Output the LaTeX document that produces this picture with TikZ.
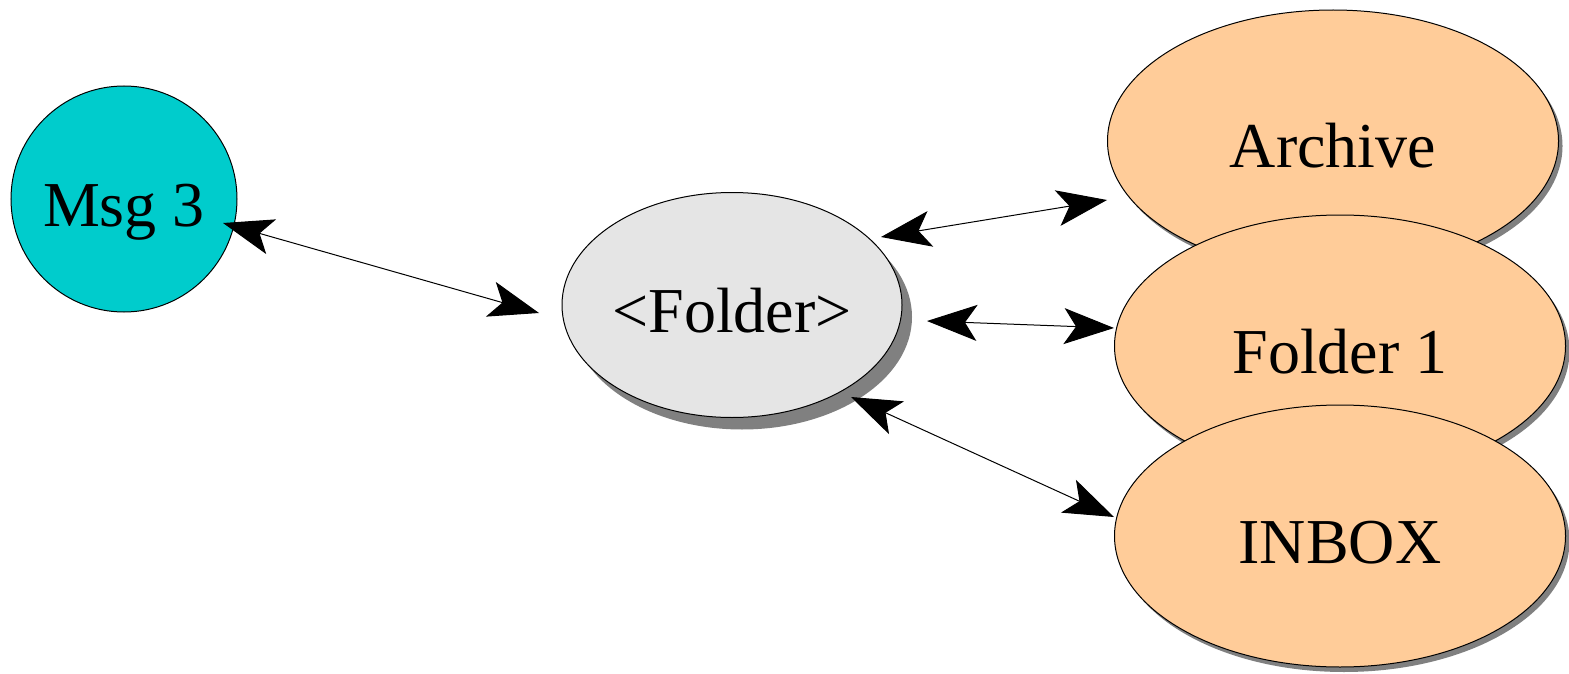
\documentclass[tikz,border=0pt]{standalone}
\usepackage{fontspec}
\setmainfont{Liberation Serif}
\usetikzlibrary{calc,shadows,arrows.meta}

\definecolor{msgcyan}{RGB}{0,204,204}
\definecolor{foldergray}{RGB}{229,229,229}
\definecolor{boxorange}{RGB}{255,204,153}
\definecolor{shadowgray}{RGB}{128,128,128}

\tikzset{
  blob/.style={draw=black, line width=0.5pt, inner sep=0pt,
    font=\fontsize{32}{38}\selectfont, text height=27pt, text depth=0pt},
  msgnode/.style={blob, circle, fill=msgcyan, minimum size=113pt},
  foldernode/.style={blob, ellipse, fill=foldergray, minimum width=170pt, minimum height=112.5pt,
    drop shadow={shadow xshift=5pt, shadow yshift=-6pt, fill=shadowgray, opacity=1}},
  boxnode/.style={blob, ellipse, fill=boxorange, minimum width=225.5pt, minimum height=131pt,
    drop shadow={shadow xshift=2pt, shadow yshift=-2.5pt, fill=shadowgray, opacity=1}},
  link/.style={line width=0.5pt, {Stealth[length=25pt, width=18pt, inset=6pt]}-{Stealth[length=25pt, width=18pt, inset=6pt]}}
}
\usetikzlibrary{shapes.geometric}

\begin{document}
\begin{tikzpicture}[x=0.5pt, y=-0.5pt]

\useasboundingbox (0,0) rectangle (1569,674);

\node[msgnode] (msg) at (124,199) {Msg 3};
\node[foldernode] (folder) at (732,305) {<Folder>};

% the three folders, stacked
\node[boxnode] (archive) at (1333,141) {Archive};
\node[boxnode] (folder1) at (1340,346) {Folder 1};
\node[boxnode] (inbox) at (1340,536) {INBOX};

\draw[link] ($(msg)+(99,24)$) -- ($(folder)+(-193,8)$);
\draw[link] ($(folder)+(149,-68)$) -- ($(archive)+(-226,59)$);
\draw[link] ($(folder)+(195,16)$) -- ($(folder1)+(-226,-18)$);
\draw[link] ($(folder)+(119,92)$) -- ($(inbox)+(-226,-19)$);

\end{tikzpicture}
\end{document}
